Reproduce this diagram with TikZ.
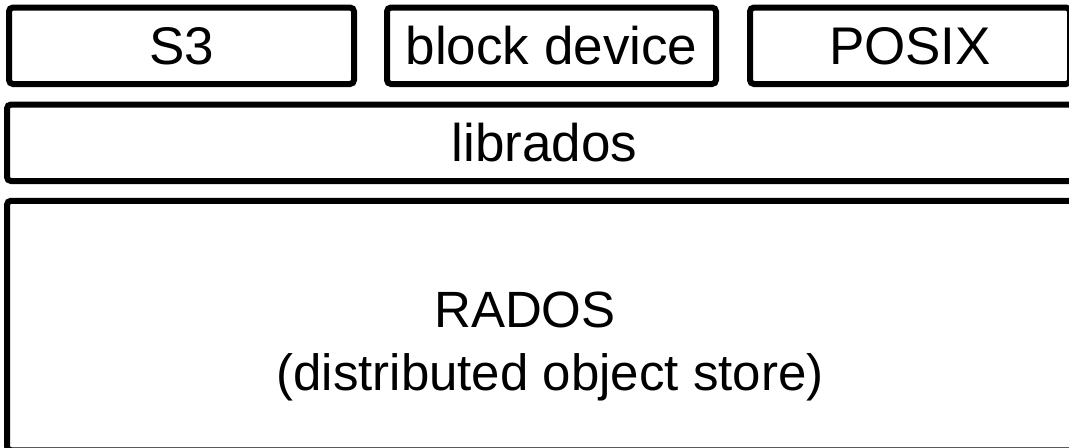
\documentclass[tikz,border=0pt]{standalone}
\usepackage{fontspec}
\setmainfont{Liberation Sans}
\begin{document}
\begin{tikzpicture}[x=0.5pt,y=-0.5pt,
  layerfont/.style={font=\fontsize{26.5}{32}\selectfont},
  radosfont/.style={font=\fontsize{25.5}{31}\selectfont},
  layerbox/.style={draw=black, line width=3pt, rounded corners=2pt, inner sep=0pt,
    layerfont, align=center, anchor=center}]
\useasboundingbox (0,0) rectangle (1069,447);
\begin{scope}
\clip (0,0) rectangle (1069,447);
\node[layerbox, minimum width=172.5pt, minimum height=38.25pt] (s3) at (181.5,45.75) {S3};
\node[layerbox, minimum width=164.5pt, minimum height=38.25pt] (blk) at (551.5,45.75) {block device};
\node[layerbox, minimum width=160pt, minimum height=38.25pt] (posix) at (910,45.75) {POSIX};
\node[layerbox, minimum width=537.5pt, minimum height=38.25pt] (lib) at (544.5,142.75) {librados};
\node[layerbox, minimum width=537.5pt, minimum height=124.75pt] (rados) at (544.5,325.5) {};
\node[radosfont, inner sep=0pt, anchor=base] (radostxt) at (525,327) {RADOS};
\node[radosfont, inner sep=0pt, anchor=base] (radossub) at (550,390) {(distributed object store)};
\end{scope}
\end{tikzpicture}
\end{document}
